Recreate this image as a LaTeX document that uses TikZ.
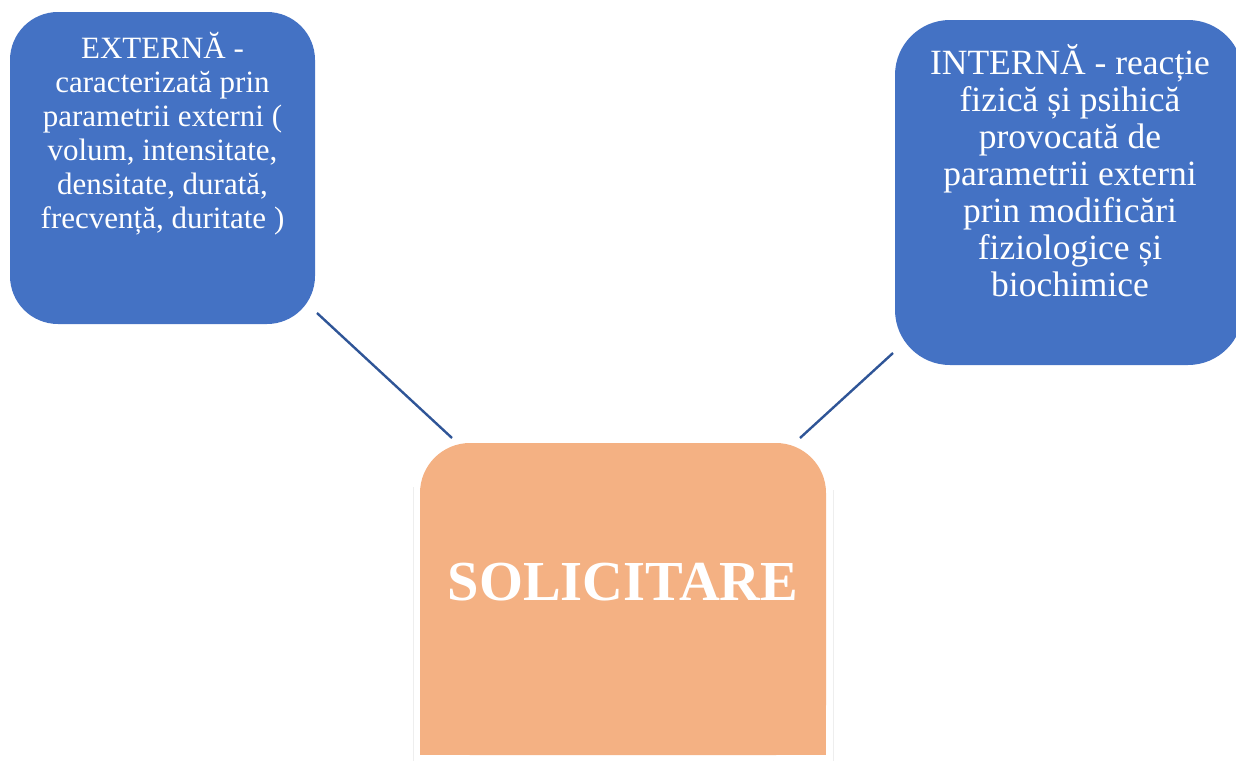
\documentclass[tikz,border=0pt]{standalone}
\usepackage{fontspec}
\setmainfont{Liberation Serif}
\definecolor{boxblue}{HTML}{4472C4}
\definecolor{boxorange}{HTML}{F4B183}
\definecolor{linkblue}{HTML}{2F5597}
\definecolor{faint}{HTML}{EEEEEE}
\begin{document}
\begin{tikzpicture}[x=1pt,y=-1pt,
  bluebox/.style={fill=boxblue,draw=none,rounded corners=48pt,inner sep=0pt},
  boxtext/.style={text=white,align=center,inner sep=0pt,anchor=north},
  link/.style={draw=linkblue,line width=2.4pt}]
\useasboundingbox (0,0) rectangle (1236,761);
\begin{scope}
\clip (0,0) rectangle (1236,761);
% left box
\node[bluebox,minimum width=305pt,minimum height=312pt] (ext) at (162.5,168) {};
\node[boxtext,font=\fontsize{31}{34}\selectfont] (exttxt) at (162.5,32)
  {EXTERNĂ -\\caracterizată prin\\parametrii externi (\\volum, intensitate,\\densitate, durată,\\frecvență, duritate )};
% right box
\node[bluebox,rounded corners=55pt,minimum width=348pt,minimum height=345pt] (int) at (1069,192.5) {};
\node[boxtext,font=\fontsize{35.5}{37}\selectfont] (inttxt) at (1070,44)
  {INTERNĂ - reacție\\fizică și psihică\\provocată de\\parametrii externi\\prin modificări\\fiziologice și\\biochimice};
\end{scope}
% faint side lines
\draw[faint,line width=1pt] (413,487) -- (413,761);
\draw[faint,line width=1pt] (833,490) -- (833,761);
% orange box
\fill[boxorange,rounded corners=50pt] (420,443) rectangle (826,755);
\fill[boxorange] (420,600) rectangle (826,755);
\node[inner sep=0pt,minimum width=406pt,minimum height=312pt] (sol) at (623,599) {};
\node[text=white,inner sep=0pt,font=\fontsize{56.5}{62}\selectfont\bfseries,anchor=base] (soltxt) at (623,600) {SOLICITARE};
% connectors
\coordinate (a1) at (317,313);
\coordinate (a2) at (452,438);
\coordinate (b1) at (893,353);
\coordinate (b2) at (800,438);
\draw[link] (a1) -- (a2);
\draw[link] (b1) -- (b2);
\end{tikzpicture}
\end{document}
